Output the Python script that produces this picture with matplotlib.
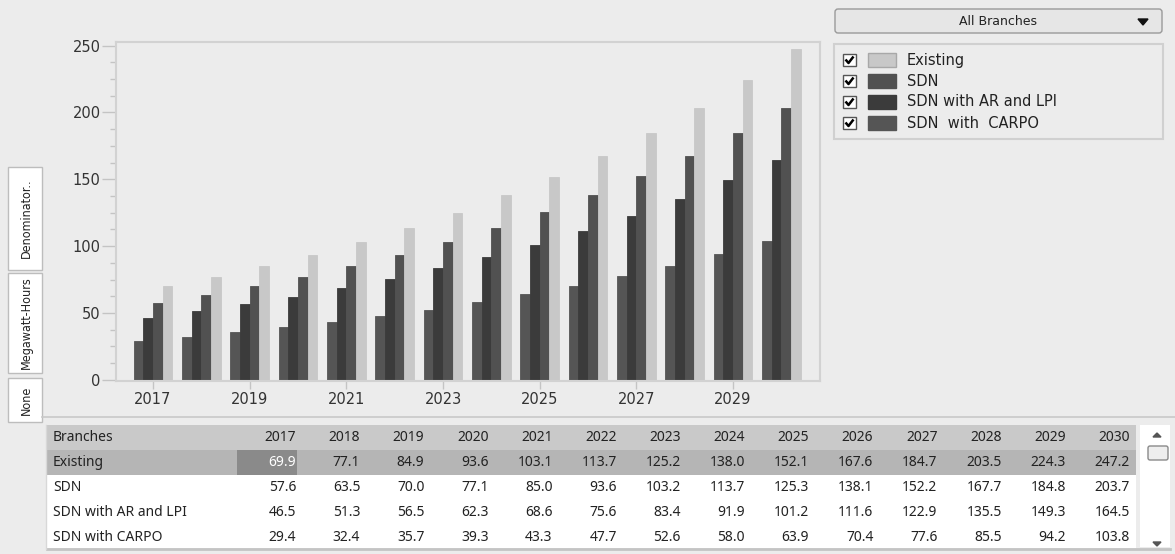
import numpy as np
import matplotlib
matplotlib.use("Agg")
import matplotlib.pyplot as plt
from matplotlib.patches import Rectangle, FancyBboxPatch, Polygon

years = list(range(2017, 2031))
series_names = ["Existing", "SDN", "SDN with AR and LPI", "SDN with CARPO"]
legend_labels = ["Existing", "SDN", "SDN with AR and LPI", "SDN  with  CARPO"]
existing = [69.9, 77.1, 84.9, 93.6, 103.1, 113.7, 125.2, 138.0, 152.1, 167.6, 184.7, 203.5, 224.3, 247.2]
sdn = [57.6, 63.5, 70.0, 77.1, 85.0, 93.6, 103.2, 113.7, 125.3, 138.1, 152.2, 167.7, 184.8, 203.7]
sdn_ar = [46.5, 51.3, 56.5, 62.3, 68.6, 75.6, 83.4, 91.9, 101.2, 111.6, 122.9, 135.5, 149.3, 164.5]
sdn_carpo = [29.4, 32.4, 35.7, 39.3, 43.3, 47.7, 52.6, 58.0, 63.9, 70.4, 77.6, 85.5, 94.2, 103.8]
tab_labels = ["Denominator..", "Megawatt-Hours", "None"]

colors = {"Existing": "#c8c8c8", "SDN": "#515151",
          "SDN with AR and LPI": "#3b3b3b", "SDN with CARPO": "#555555"}
values = {"Existing": existing, "SDN": sdn,
          "SDN with AR and LPI": sdn_ar, "SDN with CARPO": sdn_carpo}

W, H = 1175, 554
BG = "#ececec"
fig = plt.figure(figsize=(W / 100, H / 100), dpi=100, facecolor=BG)


def px_axes(l, t, r, b):
    return fig.add_axes([l / W, 1 - b / H, (r - l) / W, (b - t) / H])


# ---- chart ----
ax = px_axes(116, 42, 820, 381)
ax.set_facecolor(BG)
bar_w = 0.2
order = ["SDN with CARPO", "SDN with AR and LPI", "SDN", "Existing"]
x = np.array(years, dtype=float)
for i, name in enumerate(order):
    ax.bar(x + (i - 1.5) * bar_w, values[name], width=bar_w, color=colors[name],
           edgecolor=colors[name], linewidth=0.6, zorder=2)

ax.set_xlim(2016.234, 2030.8)
ax.set_ylim(-0.8, 252.7)
ax.set_yticks([0, 50, 100, 150, 200, 250])
ax.set_yticks(np.arange(0, 251, 12.5), minor=True)
ax.set_xticks(years[::2])
ax.tick_params(axis="y", which="major", length=10, width=1, color="#c4c4c4",
               labelsize=10.5, labelcolor="#333333", pad=1)
ax.tick_params(axis="y", which="minor", length=4, width=1, color="#c4c4c4")
ax.tick_params(axis="x", which="major", length=6, width=1, color="#c4c4c4",
               labelsize=10.5, labelcolor="#333333", pad=2)
for s in ax.spines.values():
    s.set_color("#d2d2d2")
    s.set_linewidth(1.5)

# ---- UI overlay ----
ui = fig.add_axes([0, 0, 1, 1])
ui.set_xlim(0, W)
ui.set_ylim(H, 0)
ui.axis("off")

# dropdown
ui.add_patch(FancyBboxPatch((835, 9), 327, 24, boxstyle="round,pad=0,rounding_size=3",
                            facecolor="#e6e6e6", edgecolor="#9a9a9a", linewidth=1))
ui.text(998, 21.5, "All Branches", ha="center", va="center", fontsize=9, color="#222222",
        family="DejaVu Sans")
ui.add_patch(Polygon([(1138, 19), (1148, 19), (1143, 25)], closed=True, color="#111111"))

# legend box
ui.add_patch(Rectangle((834, 44), 329, 95, facecolor=BG, edgecolor="#d0d0d0", linewidth=1.5))
row_y = [60, 81, 102, 123]
legend_order = ["Existing", "SDN", "SDN with AR and LPI", "SDN with CARPO"]
for yy, name, lab in zip(row_y, legend_order, legend_labels):
    ui.add_patch(Rectangle((843, yy - 6), 13, 12, facecolor="white", edgecolor="#555555", linewidth=1))
    ui.plot([845.5, 848.5, 853.5], [yy - 0.5, yy + 3, yy - 3.5], color="black", linewidth=1.8,
            solid_capstyle="butt")
    ui.add_patch(Rectangle((868, yy - 7), 28, 14, facecolor=colors[name],
                           edgecolor="#a8a8a8" if name == "Existing" else colors[name], linewidth=1))
    ui.text(907, yy, lab, ha="left", va="center", fontsize=10.5, color="#222222",
            family="DejaVu Sans")

# side tabs
tab_spans = [(167, 270), (273, 373), (378, 422)]
for (t, b), lab in zip(tab_spans, tab_labels):
    ui.add_patch(Rectangle((8, t), 34, b - t, facecolor="white", edgecolor="#bdbdbd", linewidth=1))
    ui.text(26, (t + b) / 2, lab, rotation=90, ha="center", va="center", fontsize=9,
            color="#222222", family="Liberation Sans Narrow" if False else "DejaVu Sans",
            fontstretch="condensed")

# separator
ui.plot([42, W], [417, 417], color="#c8c8c8", linewidth=1.2)

# table
tab_l, tab_r = 47, 1136
row_h = 25
rows_top = 425
ui.add_patch(Rectangle((tab_l, rows_top), tab_r - tab_l, row_h, facecolor="#c9c9c9", edgecolor="none"))
ui.add_patch(Rectangle((tab_l, rows_top + row_h), tab_r - tab_l, row_h, facecolor="#b5b5b5", edgecolor="none"))
ui.add_patch(Rectangle((tab_l, rows_top + 2 * row_h), tab_r - tab_l, 3 * row_h - 2, facecolor="white",
                       edgecolor="none"))
ui.plot([tab_l, 1170], [549, 549], color="#c4c4c4", linewidth=2)
ui.plot([tab_l - 1, tab_l - 1], [rows_top, 549], color="#d8d8d8", linewidth=1)

col_right = [296 + 64.15 * i for i in range(len(years))]
# highlighted cell
ui.add_patch(Rectangle((237, rows_top + row_h), 60, row_h, facecolor="#8a8a8a", edgecolor="none"))

tfont = dict(fontsize=10, family="Noto Sans", va="center")
ui.text(53, rows_top + row_h / 2, "Branches", ha="left", color="#222222", **tfont)
for xr, yr in zip(col_right, years):
    ui.text(xr, rows_top + row_h / 2, str(yr), ha="right", color="#222222", **tfont)
for r, name in enumerate(series_names):
    yc = rows_top + (r + 1) * row_h + row_h / 2
    ui.text(53, yc, name, ha="left", color="#222222", **tfont)
    for c, (xr, v) in enumerate(zip(col_right, values[name])):
        col = "white" if (r == 0 and c == 0) else "#222222"
        ui.text(xr, yc, f"{v:.1f}", ha="right", color=col, **tfont)

# scrollbar
ui.add_patch(Rectangle((1140, 425), 30, 122, facecolor="white", edgecolor="none"))
ui.add_patch(Polygon([(1153, 437), (1161, 437), (1157, 433)], closed=True, color="#555555"))
ui.add_patch(FancyBboxPatch((1148, 446), 20, 14, boxstyle="round,pad=0,rounding_size=2",
                            facecolor="#eeeeee", edgecolor="#8a8a8a", linewidth=1))
ui.add_patch(Polygon([(1153, 542), (1161, 542), (1157, 546)], closed=True, color="#555555"))

fig.savefig("out.png", dpi=100, facecolor=BG)
